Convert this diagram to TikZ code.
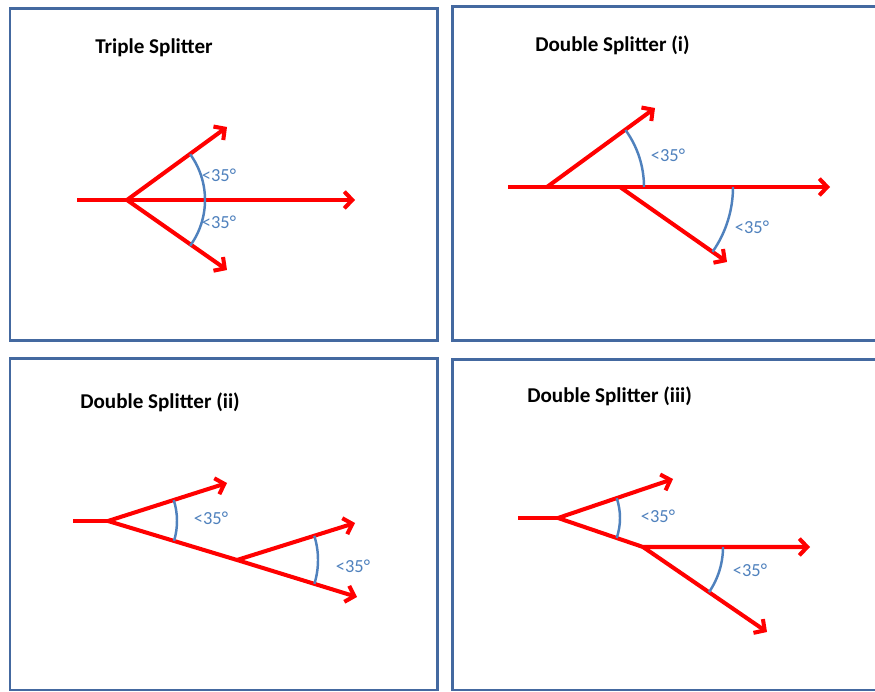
\documentclass[tikz,border=0pt]{standalone}
\usepackage{fontspec}
\setmainfont{Carlito}
\usetikzlibrary{arrows.meta}

\definecolor{framecol}{RGB}{68,105,160}
\definecolor{arccol}{RGB}{79,129,189}

\tikzset{
    panel/.style={draw=framecol, line width=1.7pt},
    flow/.style={red, line width=2.3pt, line join=round, -{Straight Barb[length=4.5pt,width=9.5pt]}},
    feed/.style={red, line width=2.3pt},
    anglearc/.style={arccol, line width=1.4pt},
    anglelabel/.style={text=arccol, font=\fontsize{10.5}{12}\selectfont, inner sep=0pt},
    paneltitle/.style={anchor=west, font=\fontsize{12}{14}\selectfont\bfseries, inner sep=0pt}
}

\begin{document}
\begin{tikzpicture}[x=0.02cm, y=0.02cm]
    \clip (0,0) rectangle (875,692);
    \fill[white] (0,0) rectangle (875,692);

    \foreach \xa/\ya/\xb/\yb in {10/351/437/683, 452/351/890/685, 10/2/437/333, 452/2/890/332} {
        \draw[panel] (\xa,\ya) rectangle (\xb,\yb);
    }

    % triple splitter
    \node[paneltitle] (title1) at (95,644) {Triple Splitter};
    \coordinate (in1) at (77,492);
    \coordinate (s1) at (127,492);
    \coordinate (t1a) at (227,565);
    \coordinate (t1b) at (355,492);
    \coordinate (t1c) at (227,422);
    \draw[feed] (in1) -- (s1);
    \draw[flow] (s1) -- (t1a);
    \draw[flow] (s1) -- (t1b);
    \draw[flow] (s1) -- (t1c);
    \draw[anglearc] (s1) ++(36:78) arc[start angle=36, end angle=-36, radius=78];
    \node[anglelabel] (lab1a) at (219,517) {<35°};
    \node[anglelabel] (lab1b) at (219,470) {<35°};

    % double splitter (i)
    \node[paneltitle] (title2) at (535,647) {Double Splitter (i)};
    \coordinate (in2) at (508,505);
    \coordinate (s2a) at (547,505);
    \coordinate (s2b) at (620,505);
    \coordinate (t2a) at (655,584);
    \coordinate (t2b) at (830,505);
    \coordinate (t2c) at (727,430);
    \draw[flow] (in2) -- (t2b);
    \draw[flow] (s2a) -- (t2a);
    \draw[flow] (s2b) -- (t2c);
    \draw[anglearc] (s2a) ++(0:97) arc[start angle=0, end angle=36, radius=97];
    \draw[anglearc] (s2b) ++(0:113) arc[start angle=0, end angle=-35, radius=113];
    \node[anglelabel] (lab2a) at (668,537) {<35°};
    \node[anglelabel] (lab2b) at (752,465) {<35°};

    % double splitter (ii)
    \node[paneltitle] (title3) at (80,290) {Double Splitter (ii)};
    \coordinate (in3) at (73,171);
    \coordinate (s3a) at (108,171);
    \coordinate (s3b) at (237,132);
    \coordinate (t3a) at (227,209);
    \coordinate (t3b) at (355,169);
    \coordinate (t3c) at (357,95);
    \draw[feed] (in3) -- (s3a);
    \draw[flow] (s3a) -- (t3a);
    \draw[flow] (s3a) -- (s3b) -- (t3c);
    \draw[flow] (s3b) -- (t3b);
    \draw[anglearc] (s3a) ++(17.7:69) arc[start angle=17.7, end angle=-16.8, radius=69];
    \draw[anglearc] (s3b) ++(17.4:81) arc[start angle=17.4, end angle=-17.1, radius=81];
    \node[anglelabel] (lab3a) at (211,174) {<35°};
    \node[anglelabel] (lab3b) at (353,126) {<35°};

    % double splitter (iii)
    \node[paneltitle] (title4) at (527,296) {Double Splitter (iii)};
    \coordinate (in4) at (518,174);
    \coordinate (s4a) at (558,174);
    \coordinate (s4b) at (643,145);
    \coordinate (t4a) at (673,213);
    \coordinate (t4b) at (810,145);
    \coordinate (t4c) at (767,60);
    \draw[feed] (in4) -- (s4a);
    \draw[flow] (s4a) -- (t4a);
    \draw[flow] (s4a) -- (s4b) -- (t4b);
    \draw[flow] (s4b) -- (t4c);
    \draw[anglearc] (s4a) ++(18.7:62) arc[start angle=18.7, end angle=-18.8, radius=62];
    \draw[anglearc] (s4b) ++(0:80) arc[start angle=0, end angle=-34.4, radius=80];
    \node[anglelabel] (lab4a) at (658,176) {<35°};
    \node[anglelabel] (lab4b) at (750,122) {<35°};
\end{tikzpicture}
\end{document}
